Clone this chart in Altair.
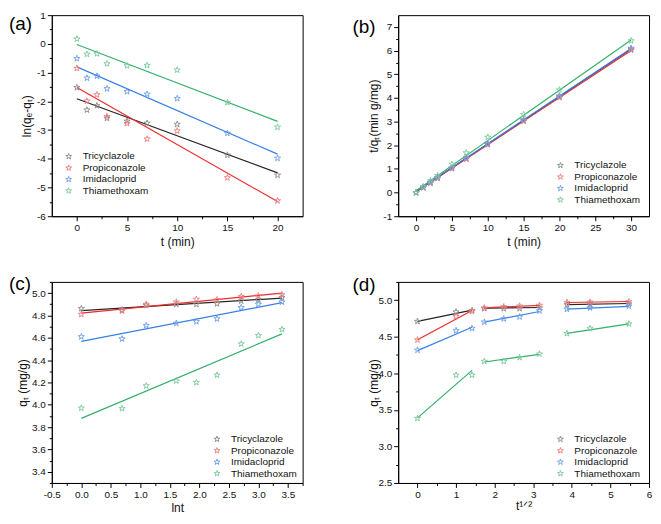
import altair as alt
import pandas as pd

names = ["Tricyclazole", "Propiconazole", "Imidacloprid", "Thiamethoxam"]
fit_names = [n + " fit" for n in names]
line_colors = ["#262626", "#ee2a2a", "#3580e6", "#33b06a"]
point_colors = ["#8a8a8a", "#f07a7a", "#6d9de6", "#79c99c"]

# (a) pseudo-first-order
t_a = [0, 1, 2, 3, 5, 7, 10, 15, 20]
a_tri = [-1.52, -2.30, -2.15, -2.59, -2.69, -2.76, -2.80, -3.87, -4.57]
a_pro = [-0.85, -1.99, -1.77, -2.53, -2.77, -3.31, -3.03, -4.66, -5.46]
a_imi = [-0.51, -1.19, -1.12, -1.56, -1.66, -1.75, -1.90, -3.11, -3.98]
a_thi = [0.17, -0.36, -0.34, -0.69, -0.76, -0.75, -0.91, -2.04, -2.90]
a_fit_x0 = [0]
a_fit_x1 = [20]
a_fit = [[(-1.91, -4.49)], [(-1.52, -5.49)], [(-0.80, -3.84)], [(-0.02, -2.70)]]

# (b) pseudo-second-order
t_b = [0, 1, 2, 3, 5, 7, 10, 15, 20, 30]
b_tri = [0, 0.21, 0.41, 0.61, 1.02, 1.43, 2.04, 3.04, 4.05, 6.06]
b_pro = [0, 0.21, 0.41, 0.61, 1.02, 1.42, 2.03, 3.02, 4.02, 6.02]
b_imi = [0, 0.22, 0.43, 0.64, 1.05, 1.47, 2.06, 3.08, 4.09, 6.10]
b_thi = [0, 0.25, 0.50, 0.72, 1.20, 1.68, 2.34, 3.30, 4.34, 6.42]
b_fit_x0 = [0]
b_fit_x1 = [30]
b_fit = [[(0.04, 6.07)], [(0.03, 6.01)], [(0.05, 6.09)], [(0.08, 6.45)]]

# (c) Elovich
lnt = [0, 0.69, 1.10, 1.61, 1.95, 2.30, 2.71, 3.00, 3.40]
c_tri = [4.862, 4.85, 4.89, 4.90, 4.90, 4.905, 4.93, 4.94, 4.96]
c_pro = [4.81, 4.84, 4.90, 4.92, 4.945, 4.94, 4.97, 4.975, 4.985]
c_imi = [4.61, 4.59, 4.71, 4.73, 4.745, 4.77, 4.87, 4.90, 4.92]
c_thi = [3.97, 3.967, 4.17, 4.214, 4.20, 4.266, 4.545, 4.62, 4.675]
c_fit_x0 = [0]
c_fit_x1 = [3.4]
c_fit = [[(4.843, 4.955)], [(4.82, 5.0)], [(4.568, 4.914)], [(3.878, 4.635)]]

# (d) intraparticle diffusion
sqrt_t = [0, 1, 1.414, 1.732, 2.236, 2.646, 3.162, 3.873, 4.472, 5.477]
d_tri = [4.71, 4.84, 4.86, 4.886, 4.886, 4.886, 4.895, 4.94, 4.943, 4.95]
d_pro = [4.457, 4.777, 4.847, 4.895, 4.91, 4.92, 4.93, 4.97, 4.974, 4.98]
d_imi = [4.317, 4.584, 4.615, 4.70, 4.746, 4.772, 4.855, 4.877, 4.895, 4.92]
d_thi = [3.384, 3.975, 3.975, 4.164, 4.164, 4.216, 4.264, 4.545, 4.615, 4.676]
d_fit_x0 = [0, 1.732, 3.873]
d_fit_x1 = [1.414, 3.162, 5.477]
d_fit = [
    [(4.71, 4.865), (4.89, 4.90), (4.94, 4.955)],
    [(4.46, 4.86), (4.895, 4.93), (4.968, 4.982)],
    [(4.31, 4.63), (4.70, 4.845), (4.877, 4.915)],
    [(3.39, 4.04), (4.155, 4.26), (4.545, 4.675)],
]

STAR = ("M0,-1L0.225,-0.309L0.951,-0.309L0.363,0.118L0.588,0.809L0,0.382"
        "L-0.588,0.809L-0.363,0.118L-0.951,-0.309L-0.225,-0.309Z")
FONT = "Liberation Sans"
W = 252
H = 202


def points_df(x, series):
    rows = []
    for n, ys in zip(names, series):
        for xi, yi in zip(x, ys):
            rows.append({"x": xi, "y": yi, "key": n})
    return pd.DataFrame(rows)


def fit_df(x0s, x1s, fits):
    rows = []
    for n, segs in zip(fit_names, fits):
        for k, (y0, y1) in enumerate(segs):
            rows.append({"x": x0s[k], "y": y0, "key": n, "seg": k})
            rows.append({"x": x1s[k], "y": y1, "key": n, "seg": k})
    return pd.DataFrame(rows)


def make_axis(majors, minors, decimals, title, orient, tx, ty):
    vals = sorted(majors + minors)
    maj = "[" + ",".join(repr(v) for v in majors) + "]"
    is_major = f"indexof({maj}, datum.value) >= 0"
    fmt = f"(datum.value < 0 ? '-' : '') + format(abs(datum.value), '.{decimals}f')"
    return alt.Axis(
        values=vals,
        labelExpr=f"{is_major} ? {fmt} : ''",
        tickSize={"condition": {"test": f"!({is_major})", "value": 2.5}, "value": 4.5},
        title=title,
        orient=orient,
        titleX=tx,
        titleY=ty,
        titleBaseline="middle",
        titleAlign="center",
        titleFontWeight="normal",
        grid=False,
        labelFlush=False,
        labelOverlap=False,
    )


def panel(label, lab_x, lab_y, pdf, fdf, xdom, ydom, xaxis, yaxis, legx, legy, width=W):
    xs = alt.Scale(domain=xdom, nice=False, zero=False)
    ys = alt.Scale(domain=ydom, nice=False, zero=False)
    xenc = alt.X("x:Q", scale=xs, axis=xaxis)
    yenc = alt.Y("y:Q", scale=ys, axis=yaxis)
    cenc = alt.Color(
        "key:N",
        scale=alt.Scale(domain=names + fit_names, range=point_colors + line_colors),
        legend=alt.Legend(
            title=None, values=names, orient="none", legendX=legx, legendY=legy,
            symbolType=STAR, symbolSize=38, symbolStrokeWidth=0.9,
            symbolFillColor="transparent",
            labelFont=FONT, labelFontSize=10, labelColor="#111",
            labelOffset=9, rowPadding=1.5, padding=0,
        ),
    )
    lines = alt.Chart(fdf).mark_line(strokeWidth=1.2, clip=True).encode(
        x=xenc, y=yenc, color=cenc, detail="seg:N",
    )
    pts = alt.Chart(pdf).mark_point(shape=STAR, filled=False, size=42, strokeWidth=0.9, opacity=1).encode(
        x=xenc, y=yenc, color=cenc,
    )
    txt = alt.Chart(pd.DataFrame({"label": [label]})).mark_text(
        align="left", baseline="top", fontSize=19, font=FONT, color="black"
    ).encode(text="label:N", x=alt.value(lab_x), y=alt.value(lab_y))
    return alt.layer(lines, pts, txt).properties(width=width, height=H)


pa = panel(
    "(a)", -43, 0, points_df(t_a, [a_tri, a_pro, a_imi, a_thi]),
    fit_df(a_fit_x0, a_fit_x1, a_fit), [-2.5, 22.5], [-6, 1],
    make_axis([0, 5, 10, 15, 20], [2.5, 7.5, 12.5, 17.5], 0, "t (min)", "bottom", W / 2, 25),
    make_axis([-6, -5, -4, -3, -2, -1, 0, 1], [-5.5, -4.5, -3.5, -2.5, -1.5, -0.5, 0.5], 0,
              "ln(qₑ-qₜ)", "left", -25, H / 2),
    12, 137,
)
pb = panel(
    "(b)", -46, 3, points_df(t_b, [b_tri, b_pro, b_imi, b_thi]),
    fit_df(b_fit_x0, b_fit_x1, b_fit), [-2.5, 32.5], [-1, 7.5],
    make_axis([0, 5, 10, 15, 20, 25, 30], [2.5, 7.5, 12.5, 17.5, 22.5, 27.5], 0, "t (min)", "bottom", W / 2, 25),
    make_axis([-1, 0, 1, 2, 3, 4, 5, 6, 7], [-0.5, 0.5, 1.5, 2.5, 3.5, 4.5, 5.5, 6.5], 0,
              "t/qₜ(min g/mg)", "left", -25, H / 2),
    158, 146,
)
pc = panel(
    "(c)", -43, -7, points_df(lnt, [c_tri, c_pro, c_imi, c_thi]),
    fit_df(c_fit_x0, c_fit_x1, c_fit), [-0.5, 3.75], [3.3, 5.1],
    make_axis([-0.5, 0.0, 0.5, 1.0, 1.5, 2.0, 2.5, 3.0, 3.5],
              [-0.25, 0.25, 0.75, 1.25, 1.75, 2.25, 2.75, 3.25, 3.75], 1, "lnt", "bottom", W / 2, 25),
    make_axis([3.4, 3.6, 3.8, 4.0, 4.2, 4.4, 4.6, 4.8, 5.0],
              [3.3, 3.5, 3.7, 3.9, 4.1, 4.3, 4.5, 4.7, 4.9, 5.1], 1,
              "qₜ (mg/g)", "left", -29, H / 2),
    161, 153,
)
pd_ = panel(
    "(d)", -46, -6, points_df(sqrt_t, [d_tri, d_pro, d_imi, d_thi]),
    fit_df(d_fit_x0, d_fit_x1, d_fit), [-0.5, 6], [2.5, 5.25],
    make_axis([0, 1, 2, 3, 4, 5, 6], [0.5, 1.5, 2.5, 3.5, 4.5, 5.5], 0, "t¹ᐟ²", "bottom", W / 2, 23),
    make_axis([2.5, 3.0, 3.5, 4.0, 4.5, 5.0], [2.75, 3.25, 3.75, 4.25, 4.75, 5.25], 1,
              "qₜ (mg/g)", "left", -25, H / 2),
    158, 153,
)

ind = dict(color="independent", x="independent", y="independent")
row1 = alt.hconcat(pa, pb, spacing=48).resolve_scale(**ind)
row2 = alt.hconcat(pc, pd_, spacing=48).resolve_scale(**ind)
chart = alt.vconcat(row1, row2, spacing=26).resolve_scale(**ind).properties(
    padding=0, background="white"
).configure_view(
    stroke="black", strokeWidth=1
).configure_axis(
    domainColor="black", domainWidth=1, tickColor="black", tickWidth=1,
    labelFont=FONT, labelFontSize=10, labelColor="#111", labelPadding=2,
    labelOverlap=False,
    titleFont=FONT, titleFontSize=12, titleColor="#111", titleFontWeight="normal",
)

chart.save("out.html", embed_options={"renderer": "svg", "actions": False})
